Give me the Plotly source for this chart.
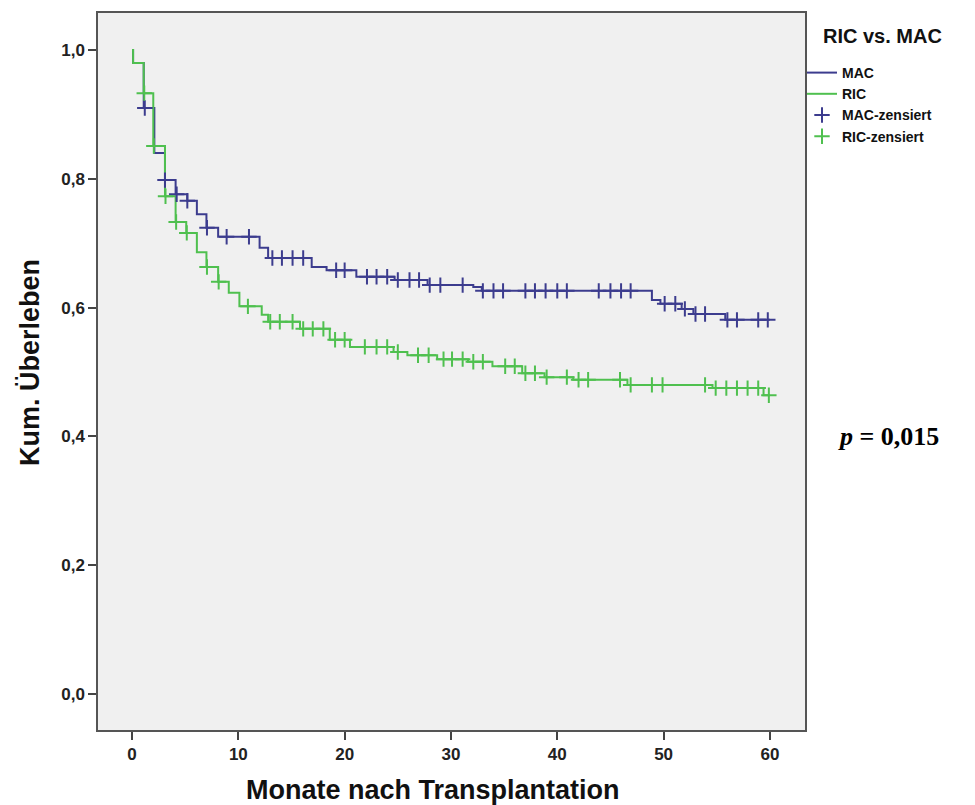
import numpy as np
import plotly.graph_objects as go

# ---- data ----
mac_event_t = [0.1, 1.1, 2.1, 3.1, 4.1, 5.2, 6.1, 7.0, 8.1, 12.0, 12.8, 16.9, 18.3, 21.1,
               24.7, 27.8, 32.1, 32.9, 48.9, 49.7, 51.7, 52.8, 55.8]
mac_event_s = [0.980, 0.910, 0.840, 0.798, 0.776, 0.766, 0.745, 0.724, 0.710, 0.693, 0.677,
               0.663, 0.658, 0.648, 0.643, 0.635, 0.632, 0.626, 0.612, 0.606, 0.598, 0.590, 0.581]
mac_cens_t = [1.2, 3.1, 4.2, 5.2, 7.05, 8.9, 11.0, 13.2, 14.1, 15.1, 16.1, 19.2, 20.0,
              22.1, 23.0, 24.0, 25.0, 26.1, 27.0, 28.0, 29.0, 31.1, 33.0, 34.0, 34.9,
              37.0, 37.9, 38.9, 40.0, 40.9, 43.9, 45.0, 46.0, 46.9, 50.1, 51.1, 52.0,
              53.0, 53.9, 56.0, 56.9, 58.9, 59.8]

ric_event_t = [0.1, 1.1, 2.0, 3.1, 4.1, 5.1, 6.1, 7.0, 8.1, 9.1, 10.1, 12.2, 12.8, 15.8,
               18.6, 20.5, 24.6, 25.9, 28.7, 31.6, 33.9, 36.7, 38.8, 41.5, 46.6, 54.6, 59.4]
ric_event_s = [0.980, 0.933, 0.851, 0.773, 0.733, 0.716, 0.686, 0.663, 0.640, 0.623, 0.602,
               0.589, 0.578, 0.567, 0.550, 0.539, 0.531, 0.526, 0.520, 0.516, 0.509, 0.498,
               0.492, 0.488, 0.480, 0.475, 0.464]
ric_cens_t = [1.15, 2.05, 3.15, 4.15, 5.15, 7.05, 8.15, 10.9, 13.0, 13.9, 15.1, 16.1, 17.0,
              18.0, 19.1, 20.0, 21.9, 23.0, 24.0, 25.0, 26.9, 27.9, 29.3, 30.1, 31.1, 32.1,
              33.0, 35.1, 36.0, 37.0, 37.9, 39.0, 40.9, 42.0, 42.9, 45.9, 46.9, 48.9, 49.9,
              53.9, 54.9, 55.9, 56.9, 57.9, 58.9, 59.9]

t_end = 60
x_ticks = [0, 10, 20, 30, 40, 50, 60]
y_ticks = [0.0, 0.2, 0.4, 0.6, 0.8, 1.0]
y_ticklabels = ["0,0", "0,2", "0,4", "0,6", "0,8", "1,0"]

BLUE = "#3c3c8e"
GREEN = "#4fc04f"

W, H = 975, 805
OFF = 8  # default page body margin in the browser
Y0, Y1 = -0.0559, 1.0575


def step_xy(times, surv, end):
    xs = [0.0] + list(times) + [end]
    ys = [1.0] + list(surv) + [surv[-1]]
    return xs, ys


def surv_at(times, surv, tc):
    t = np.array(times)
    s = np.array([1.0] + list(surv))
    idx = np.searchsorted(t, np.array(tc), side="right")
    return s[idx]


def cx(px):  # page pixel -> container fraction (x)
    return (px - OFF) / W


def cy(py):  # page pixel -> container fraction (y)
    return 1 - (py - OFF) / H


fig = go.Figure()
mx, my = step_xy(mac_event_t, mac_event_s, t_end)
rx, ry = step_xy(ric_event_t, ric_event_s, t_end)

fig.add_trace(go.Scatter(x=mx, y=my, mode="lines", line=dict(shape="hv", color=BLUE, width=2),
                         name="MAC"))
fig.add_trace(go.Scatter(x=rx, y=ry, mode="lines", line=dict(shape="hv", color=GREEN, width=2),
                         name="RIC"))
fig.add_trace(go.Scatter(x=mac_cens_t, y=surv_at(mac_event_t, mac_event_s, mac_cens_t),
                         mode="markers", name="MAC-zensiert",
                         marker=dict(symbol="cross-thin", size=11, line=dict(color=BLUE, width=2),
                                     color=BLUE)))
fig.add_trace(go.Scatter(x=ric_cens_t, y=surv_at(ric_event_t, ric_event_s, ric_cens_t),
                         mode="markers", name="RIC-zensiert",
                         marker=dict(symbol="cross-thin", size=11, line=dict(color=GREEN, width=2),
                                     color=GREEN)))

# p-value
fig.add_annotation(text="<b><i>p</i> = 0,015</b>", xref="paper", yref="paper",
                   x=1.0, y=(0.4 - Y0) / (Y1 - Y0), xanchor="left", xshift=31, yshift=0,
                   showarrow=False,
                   font=dict(family="Liberation Serif", size=26, color="black"))

# x axis title
fig.add_annotation(text="Monate nach Transplantation", xref="x", yref="paper",
                   x=28.3, y=0, yanchor="middle", yshift=-(790 - 730),
                   showarrow=False,
                   font=dict(family="Liberation Sans", size=27, weight="bold", color="#111"))

# y axis title
fig.add_annotation(text="Kum. Überleben", xref="paper", yref="paper",
                   x=0, xshift=-(98 - 30), y=(0.514 - Y0) / (Y1 - Y0),
                   textangle=-90, xanchor="center", yanchor="middle", showarrow=False,
                   font=dict(family="Liberation Sans", size=27, weight="bold", color="#111"))

# legend title
fig.add_annotation(text="RIC vs. MAC", xref="paper", yref="paper",
                   x=1.0, xshift=821 - 805, y=1.0, yshift=-(36 - 13), xanchor="left",
                   yanchor="middle", showarrow=False,
                   font=dict(family="Liberation Sans", size=20, weight="bold", color="#111"))

fig.update_layout(
    width=W, height=H,
    margin=dict(l=98 - OFF, r=W - 805 + OFF, t=13 - OFF, b=H - (730 - OFF), autoexpand=False),
    paper_bgcolor="white",
    plot_bgcolor="#f0f0f0",
    font=dict(family="Liberation Sans", color="#111"),
    showlegend=True,
    legend=dict(
        font=dict(size=14, weight="bold", color="#111"),
        xref="container", yref="container", x=cx(802), y=cy(57),
        xanchor="left", yanchor="top", bgcolor="rgba(0,0,0,0)",
        tracegroupgap=0, itemwidth=30,
    ),
    xaxis=dict(
        range=[-3.2, 63.3], tickvals=x_ticks, showgrid=False, zeroline=False, automargin=False,
        showline=True, mirror=True, linecolor="#555", linewidth=1.5,
        ticks="outside", ticklen=8, tickwidth=1.5, tickcolor="#444",
        tickfont=dict(size=17, weight="bold", color="#222"),
    ),
    yaxis=dict(
        range=[Y0, Y1], tickvals=y_ticks, ticktext=y_ticklabels, automargin=False,
        showgrid=False, zeroline=False,
        showline=True, mirror=True, linecolor="#555", linewidth=1.5,
        ticks="outside", ticklen=8, tickwidth=1.5, tickcolor="#444",
        tickfont=dict(size=17, weight="bold", color="#222"),
    ),
)

fig.write_html("out.html")
